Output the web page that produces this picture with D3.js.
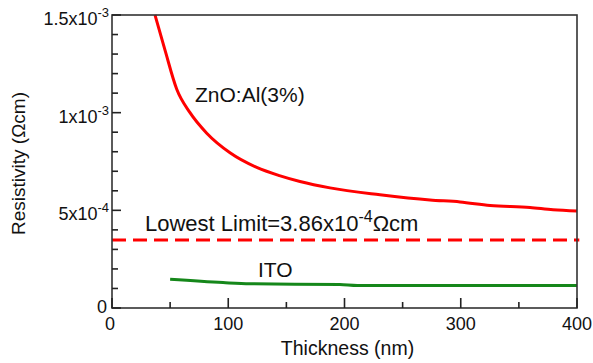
<!DOCTYPE html>
<html>
<head>
<meta charset="utf-8">
<script src="https://cdn.jsdelivr.net/npm/d3@7"></script>
<style>
body { margin: 0; background: #fff; }
text { font-family: "Liberation Sans", Arial, sans-serif; fill: #111; }
</style>
</head>
<body>
<svg id="chart" width="593" height="363"></svg>
<script>
let width = 593;
let height = 363;
let margins = {top: 15, bottom: 55, left: 112, right: 16};

// ZnO:Al(3%) curve
const zno_thickness = [37, 45.6, 55.7, 67.1, 81.5, 101.5, 124.5, 144, 161.7, 187.5, 230.5, 273.5, 299.4, 325.2, 359.6, 379.4, 400];
const zno_resistivity = [15.0e-4, 13.2e-4, 11.2e-4, 10.0e-4, 8.95e-4, 7.95e-4, 7.2e-4, 6.78e-4, 6.48e-4, 6.15e-4, 5.8e-4, 5.53e-4, 5.43e-4, 5.25e-4, 5.15e-4, 5.03e-4, 4.97e-4];

// ITO
const ito_thickness = [50, 95.5, 118.7, 196, 211, 300, 400];
const ito_resistivity = [1.47e-4, 1.30e-4, 1.24e-4, 1.20e-4, 1.15e-4, 1.15e-4, 1.15e-4];

// lowest limit (dashed line as drawn)
const limit_thickness = [0, 402];
const limit_resistivity = [3.48e-4, 3.48e-4];

const x_ticks = [0, 100, 200, 300, 400];
const x_minor = [50, 150, 250, 350];
const y_ticks = [0, 5e-4, 1e-3, 1.5e-3];
const y_tick_labels = [["0", ""], ["5x10", "-4"], ["1x10", "-3"], ["1.5x10", "-3"]];
const y_minor = [1e-4, 2e-4, 3e-4, 4e-4, 6e-4, 7e-4, 8e-4, 9e-4, 11e-4, 12e-4, 13e-4, 14e-4];

function make_scales() {
	return {
		x: d3.scaleLinear()
			.domain([0, 400])
			.range([margins.left, width - margins.right]),
		y: d3.scaleLinear()
			.domain([0, 1.5e-3])
			.range([height - margins.bottom, margins.top])
	}
}

function zip(xs, ys) {
	return xs.map((d, i) => ({t: d, r: ys[i]}));
}

function draw_axes(svg, scales) {
	const x0 = scales.x.range()[0], x1 = scales.x.range()[1];
	const y0 = scales.y.range()[0], y1 = scales.y.range()[1];

	// frame
	svg.append("rect")
		.attr("x", x0).attr("y", y1)
		.attr("width", x1 - x0).attr("height", y0 - y1)
		.attr("fill", "none")
		.attr("stroke", "#333")
		.attr("stroke-width", 1.6);

	const ticks = svg.append("g").attr("stroke", "#222").attr("stroke-width", 1.6);
	ticks.selectAll(".ymaj").data(y_ticks).enter().append("line")
		.attr("x1", x0).attr("x2", x0 + 9)
		.attr("y1", d => scales.y(d)).attr("y2", d => scales.y(d));
	ticks.selectAll(".ymin").data(y_minor).enter().append("line")
		.attr("x1", x0).attr("x2", x0 + 6)
		.attr("y1", d => scales.y(d)).attr("y2", d => scales.y(d));
	ticks.selectAll(".xmaj").data(x_ticks).enter().append("line")
		.attr("x1", d => scales.x(d)).attr("x2", d => scales.x(d))
		.attr("y1", y0).attr("y2", y0 - 10);
	ticks.selectAll(".xmin").data(x_minor).enter().append("line")
		.attr("x1", d => scales.x(d)).attr("x2", d => scales.x(d))
		.attr("y1", y0).attr("y2", y0 - 6);

	svg.selectAll(".xlab").data(x_ticks).enter().append("text")
		.attr("x", d => scales.x(d) - (d === 0 ? 2 : 0))
		.attr("y", y0 + 22)
		.attr("text-anchor", "middle")
		.attr("font-size", 18)
		.text(d => d);

	const ylab = svg.selectAll(".ylab").data(y_ticks).enter().append("text")
		.attr("x", d => x0 - (d === 0 ? 5 : 3))
		.attr("y", d => scales.y(d) + (d === 0 ? 5 : 10))
		.attr("text-anchor", "end")
		.attr("font-size", 18);
	ylab.append("tspan").text((d, i) => y_tick_labels[i][0]);
	ylab.append("tspan")
		.attr("dy", -8)
		.attr("font-size", 13)
		.text((d, i) => y_tick_labels[i][1]);

	svg.append("text")
		.attr("x", (x0 + x1) / 2 + 3)
		.attr("y", height - 8)
		.attr("text-anchor", "middle")
		.attr("font-size", 19.5)
		.text("Thickness (nm)");

	svg.append("text")
		.attr("transform", "translate(25," + ((y0 + y1) / 2 + 2) + ") rotate(-90)")
		.attr("text-anchor", "middle")
		.attr("font-size", 19)
		.text("Resistivity (\u03A9cm)");
}

function draw_lines(svg, scales) {
	const line = d3.line()
		.x(d => scales.x(d.t))
		.y(d => scales.y(d.r))
		.curve(d3.curveMonotoneX);

	svg.append("path")
		.datum(zip(zno_thickness, zno_resistivity))
		.attr("d", line)
		.attr("fill", "none")
		.attr("stroke", "#f00")
		.attr("stroke-width", 3);

	svg.append("path")
		.datum(zip(limit_thickness, limit_resistivity))
		.attr("d", line)
		.attr("fill", "none")
		.attr("stroke", "#f00")
		.attr("stroke-width", 3)
		.attr("stroke-dasharray", "14,7");

	svg.append("path")
		.datum(zip(ito_thickness, ito_resistivity))
		.attr("d", line)
		.attr("fill", "none")
		.attr("stroke", "#15871a")
		.attr("stroke-width", 3);
}

function draw_labels(svg) {
	svg.append("text")
		.attr("x", 195).attr("y", 102)
		.attr("font-size", 21)
		.text("ZnO:Al(3%)");

	const low = svg.append("text")
		.attr("x", 145).attr("y", 231)
		.attr("font-size", 22);
	low.append("tspan").text("Lowest Limit=3.86x10");
	low.append("tspan").attr("dy", -9).attr("font-size", 16).text("-4");
	low.append("tspan").attr("dy", 9).text("\u03A9cm");

	svg.append("text")
		.attr("x", 258).attr("y", 277)
		.attr("font-size", 21)
		.text("ITO");
}

function main() {
	const svg = d3.select("#chart");
	const scales = make_scales();
	draw_lines(svg, scales);
	draw_axes(svg, scales);
	draw_labels(svg);
}

main();
</script>
</body>
</html>
